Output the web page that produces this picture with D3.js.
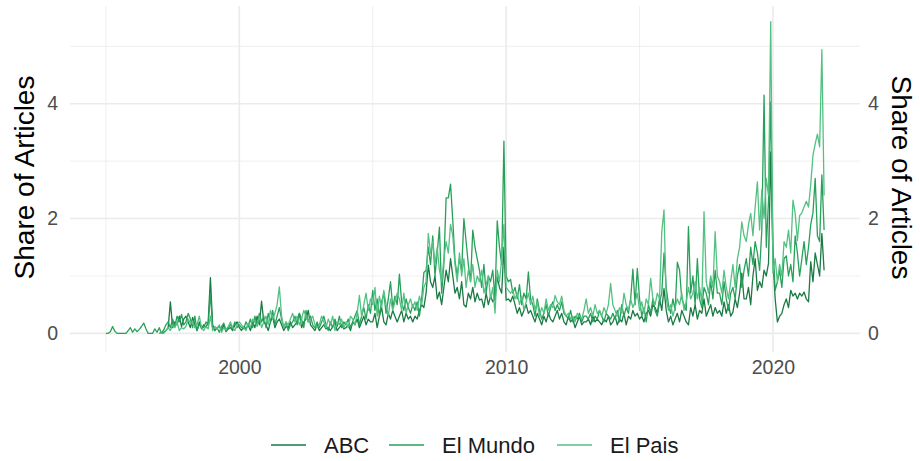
<!DOCTYPE html>
<html>
<head>
<meta charset="utf-8">
<script src="https://cdn.jsdelivr.net/npm/d3@7"></script>
<style>
  body { margin: 0; background: #fff; }
  text { font-family: "Liberation Sans", Arial, sans-serif; }
</style>
</head>
<body>
<div id="chart-area"></div>
<script>
// monthly share of articles, one row per year
var abcStart = 1997;
var abc = [
  0,0,0.02,0.05,0.1,0.55,0.1,0.2,0.15,0.3,0.12,0.25,
  0.3,0.2,0.1,0.28,0.15,0.05,0.2,0.08,0.15,0.1,0.2,0.97,
  0.15,0.05,0.1,0.12,0.05,0.15,0.03,0.08,0.1,0.05,0.15,0.2,
  0.1,0.05,0.12,0.08,0.15,0.05,0.2,0.1,0.3,0.15,0.56,0.2,
  0.15,0.05,0.2,0.3,0.1,0.2,0.25,0.15,0.05,0.12,0.1,0.2,
  0.1,0.15,0.2,0.35,0.1,0.2,0.25,0.4,0.15,0.1,0.05,0.15,
  0.05,0.1,0.15,0.08,0.1,0.05,0.12,0.2,0.05,0.1,0.15,0.08,
  0.1,0.15,0.05,0.2,0.15,0.25,0.1,0.2,0.3,0.15,0.25,0.2,
  0.2,0.35,0.1,0.3,0.45,0.2,0.15,0.35,0.25,0.4,0.3,0.2,
  0.3,0.4,0.2,0.35,0.25,0.3,0.2,0.3,0.25,0.4,0.5,0.45,
  0.7,1.19,0.9,0.8,1.0,0.6,0.72,0.5,0.8,1.1,0.9,1.3,
  1.0,0.7,0.8,0.6,0.9,0.5,0.46,0.7,0.6,0.8,0.55,0.7,
  0.58,0.6,0.45,0.7,0.5,0.65,0.55,0.6,0.98,0.8,0.7,1.5,
  0.58,0.6,0.55,0.65,0.5,0.35,0.45,0.3,0.4,0.5,0.35,0.4,
  0.3,0.2,0.35,0.25,0.15,0.3,0.2,0.35,0.25,0.2,0.3,0.4,
  0.25,0.35,0.2,0.15,0.3,0.2,0.25,0.1,0.2,0.3,0.15,0.2,
  0.2,0.25,0.15,0.3,0.2,0.25,0.2,0.15,0.25,0.2,0.3,0.15,
  0.2,0.3,0.15,0.25,0.2,0.35,0.15,0.3,0.25,0.4,0.3,0.35,
  0.25,0.3,0.2,0.35,0.4,0.3,0.5,0.45,0.35,0.6,0.4,0.78,
  0.4,0.2,0.3,0.15,0.25,0.35,0.2,0.4,0.3,0.2,0.15,0.45,
  0.3,0.5,0.25,0.4,0.35,0.6,0.3,0.4,0.5,0.3,0.45,0.35,
  0.4,0.3,0.55,0.35,0.5,0.3,0.37,0.6,0.45,0.7,1.05,0.6,
  0.6,0.8,0.5,1.0,1.3,0.75,0.9,0.8,1.1,1.0,1.22,3.16,
  1.3,0.6,0.2,0.3,0.35,0.5,0.6,0.45,0.75,0.65,0.7,0.6,
  0.7,0.65,0.72,0.6,0.55,1.25,0.9,1.4,1.2,1.0,1.74,1.1
];

var elMundoStart = 1995;
var elMundo = [
  0,0,0.03,0.12,0.04,0,0,0,0,0,0.05,0.1,
  0.02,0.08,0.03,0.07,0.12,0.18,0.08,0,0,0,0.08,0.02,
  0.1,0,0.06,0.15,0.2,0.1,0.25,0.12,0.3,0.2,0.33,0.15,
  0.2,0.35,0.25,0.1,0.3,0.05,0.15,0.12,0.1,0.2,0.15,0.7,
  0.1,0.05,0.1,0.02,0.12,0.18,0.05,0.1,0.15,0.08,0.2,0.1,
  0.15,0.1,0.08,0.2,0.12,0.25,0.1,0.3,0.15,0.35,0.2,0.3,
  0.1,0.35,0.2,0.4,0.15,0.3,0.45,0.25,0.1,0.2,0.05,0.15,
  0.2,0.3,0.15,0.35,0.25,0.1,0.4,0.2,0.3,0.15,0.1,0.2,
  0.1,0.2,0.3,0.15,0.05,0.2,0.1,0.25,0.12,0.3,0.1,0.2,
  0.15,0.25,0.1,0.2,0.3,0.4,0.15,0.3,0.45,0.25,0.5,0.35,
  0.75,0.4,0.6,0.3,0.55,0.7,0.35,0.6,0.9,0.45,0.65,0.5,
  1.03,0.55,0.4,0.6,0.45,0.35,0.5,0.4,0.55,0.3,0.6,1.06,
  1.1,1.5,1.2,1.7,1.0,1.4,1.85,0.7,1.2,2.36,2.36,2.6,
  1.97,1.27,1.0,1.3,1.1,2.0,1.6,1.2,0.9,1.8,1.5,1.3,
  1.1,0.8,1.2,0.7,1.0,0.9,1.1,0.6,1.96,1.5,1.2,3.35,
  1.0,0.9,0.94,0.7,0.8,0.6,0.85,0.5,0.7,0.6,1.07,0.6,
  0.5,0.3,0.6,0.4,0.25,0.35,0.5,0.3,0.45,0.55,0.4,0.5,
  0.4,0.55,0.35,0.3,0.25,0.4,0.2,0.3,0.25,0.35,0.2,0.3,
  0.3,0.25,0.35,0.2,0.3,0.25,0.4,0.3,0.2,0.35,0.3,0.25,
  0.35,0.25,0.4,0.2,0.5,0.3,0.45,0.35,0.6,1.12,0.5,1.13,
  0.6,0.3,0.45,0.2,0.5,0.35,0.6,0.4,0.3,0.55,0.7,1.4,
  0.8,0.5,0.35,0.6,0.4,1.24,1.1,0.6,0.5,0.4,1.86,0.7,
  1.0,0.5,1.3,0.6,0.45,0.8,0.7,0.5,0.9,0.6,1.1,0.7,
  0.7,0.5,0.9,0.6,0.4,0.7,0.8,0.6,1.0,1.2,0.8,1.1,
  1.3,1.0,1.5,1.2,1.6,1.4,1.1,1.8,4.15,1.5,2.3,4.03,
  1.5,0.75,0.9,1.1,0.8,1.3,1.35,1.0,1.2,0.9,1.7,1.4,
  1.0,1.3,1.6,1.2,1.5,1.9,2.1,2.7,1.7,1.6,2.76,1.8
];

var elPaisStart = 1997;
var elPais = [
  0,0,0,0.05,0.1,0.05,0.15,0.1,0.2,0.05,0.1,0.08,
  0.12,0.25,0.18,0.2,0.1,0.15,0.3,0.1,0.05,0.12,0.08,0.3,
  0.05,0.12,0.08,0.15,0.02,0.1,0.06,0.12,0.2,0.1,0.05,0.15,
  0.2,0.15,0.1,0.05,0.18,0.1,0.25,0.2,0.12,0.3,0.1,0.2,
  0.3,0.15,0.4,0.25,0.35,0.5,0.81,0.3,0.1,0.2,0.15,0.25,
  0.35,0.2,0.3,0.15,0.25,0.4,0.3,0.2,0.25,0.3,0.15,0.1,
  0.15,0.3,0.2,0.1,0.25,0.15,0.3,0.05,0.2,0.15,0.25,0.1,
  0.2,0.1,0.3,0.25,0.15,0.35,0.66,0.3,0.5,0.7,0.4,0.6,
  0.5,0.8,0.3,0.65,0.45,0.75,0.5,0.3,0.6,0.4,0.55,0.7,
  0.6,0.4,0.7,0.35,0.5,0.6,0.45,0.55,0.4,0.65,0.5,0.8,
  0.9,1.74,1.4,1.6,1.2,1.5,1.1,0.9,1.3,1.6,1.4,1.9,
  1.7,1.2,0.9,1.4,1.0,1.3,0.8,1.1,0.9,1.2,0.8,1.0,
  0.9,1.1,0.7,0.85,1.0,0.6,0.8,0.35,1.1,0.9,1.3,1.9,
  0.8,0.75,0.7,0.75,0.6,0.7,0.5,0.65,0.4,0.55,0.7,0.5,
  0.65,0.4,0.55,0.3,0.45,0.35,0.6,0.4,0.5,0.45,0.66,0.55,
  0.5,0.65,0.4,0.3,0.35,0.25,0.3,0.2,0.35,0.3,0.25,0.4,
  0.6,0.35,0.45,0.3,0.5,0.35,0.4,0.3,0.45,0.35,0.5,0.87,
  0.5,0.4,0.3,0.45,0.35,0.7,0.5,0.4,0.6,0.45,0.55,0.7,
  0.4,0.55,0.35,0.6,0.5,0.96,0.6,0.5,0.7,0.6,1.77,2.15,
  0.6,0.4,0.5,0.3,0.45,0.6,0.5,0.7,0.4,0.55,0.8,0.6,
  0.7,0.9,0.6,0.8,0.55,2.12,0.9,0.7,1.0,0.8,1.77,1.0,
  0.9,0.7,1.1,0.8,0.6,0.9,1.2,0.8,1.3,1.5,1.94,1.7,
  1.6,1.9,2.09,1.7,2.2,2.64,1.8,2.5,2.0,2.7,2.4,5.43,
  1.05,1.3,0.9,1.2,1.0,1.6,1.5,1.8,1.4,2.32,2.09,1.62,
  2.05,2.1,2.2,2.3,2.2,2.6,3.1,3.3,3.47,3.25,4.94,2.4
];

var seriesNames = ["ABC", "El Mundo", "El Pais"];
var seriesColors = ["#1a7a43", "#27a05a", "#52c182"];
var xTicks = [2000, 2010, 2020];
var xMinor = [1995, 2005, 2015];
var yTicks = [0, 2, 4];
var yMinor = [1, 3, 5];

function toPoints(values, start) {
  return values.map(function(v, i) {
    return { t: start + i / 12, v: v };
  });
}
var series = [
  toPoints(abc, abcStart),
  toPoints(elMundo, elMundoStart),
  toPoints(elPais, elPaisStart)
];

var W = 920, H = 461;
var margin = { left: 70, right: 60, top: 6, bottom: 112 };

var svg = d3.select("#chart-area")
  .append("svg")
  .attr("width", W)
  .attr("height", H);

var all = d3.merge(series);
var tExt = d3.extent(all, d => d.t);
var vMax = d3.max(all, d => d.v);
var tPad = (tExt[1] - tExt[0]) * 0.05;
var vPad = vMax * 0.05;

var x = d3.scaleLinear()
  .domain([tExt[0] - tPad, tExt[1] + tPad])
  .range([margin.left, W - margin.right]);
var y = d3.scaleLinear()
  .domain([0 - vPad, vMax + vPad])
  .range([H - margin.bottom, margin.top]);

var grid = svg.append("g");
grid.selectAll(".ymin").data(yMinor).enter().append("line")
  .attr("x1", x.range()[0]).attr("x2", x.range()[1])
  .attr("y1", d => y(d)).attr("y2", d => y(d))
  .attr("stroke", "#ebebeb").attr("stroke-width", 0.8);
grid.selectAll(".xmin").data(xMinor).enter().append("line")
  .attr("y1", y.range()[0] + 3).attr("y2", y.range()[1])
  .attr("x1", d => x(d)).attr("x2", d => x(d))
  .attr("stroke", "#ebebeb").attr("stroke-width", 0.8);
grid.selectAll(".ymaj").data(yTicks).enter().append("line")
  .attr("x1", x.range()[0]).attr("x2", x.range()[1])
  .attr("y1", d => y(d)).attr("y2", d => y(d))
  .attr("stroke", "#ebebeb").attr("stroke-width", 1.6);
grid.selectAll(".xmaj").data(xTicks).enter().append("line")
  .attr("y1", y.range()[0] + 3).attr("y2", y.range()[1])
  .attr("x1", d => x(d)).attr("x2", d => x(d))
  .attr("stroke", "#ebebeb").attr("stroke-width", 1.6);

var line = d3.line()
  .x(d => x(d.t))
  .y(d => y(d.v));

svg.selectAll(".series").data(series).enter().append("path")
  .attr("d", line)
  .attr("fill", "none")
  .attr("stroke", (d, i) => seriesColors[i])
  .attr("stroke-width", 1.3)
  .attr("stroke-linejoin", "round");

// axes
function styleAxis(g) {
  g.select(".domain").remove();
  g.selectAll("text")
    .attr("fill", "#4d4d4d")
    .style("font-size", "19.5px")
    .style("font-family", "Liberation Sans, Arial, sans-serif");
}
svg.append("g")
  .attr("transform", "translate(0," + (H - margin.bottom) + ")")
  .call(d3.axisBottom(x).tickValues(xTicks).tickFormat(d3.format("d")).tickSize(0).tickPadding(11))
  .call(styleAxis);
svg.append("g")
  .attr("transform", "translate(" + margin.left + ",0)")
  .call(d3.axisLeft(y).tickValues(yTicks).tickFormat(d3.format("d")).tickSize(0).tickPadding(12))
  .call(styleAxis);
svg.append("g")
  .attr("transform", "translate(" + (W - margin.right) + ",0)")
  .call(d3.axisRight(y).tickValues(yTicks).tickFormat(d3.format("d")).tickSize(0).tickPadding(8))
  .call(styleAxis);

var midY = (y.range()[0] + y.range()[1]) / 2;
svg.append("text")
  .attr("transform", "translate(34," + midY + ") rotate(-90)")
  .attr("text-anchor", "middle")
  .style("font-size", "28px")
  .text("Share of Articles");
svg.append("text")
  .attr("transform", "translate(892," + midY + ") rotate(90)")
  .attr("text-anchor", "middle")
  .style("font-size", "28px")
  .text("Share of Articles");

// legend
var legendX = [271, 389, 557];
var legend = svg.append("g").attr("transform", "translate(0,445)");
var item = legend.selectAll("g").data(seriesNames).enter().append("g")
  .attr("transform", (d, i) => "translate(" + legendX[i] + ",0)");
item.append("line")
  .attr("x1", 0).attr("x2", 35).attr("y1", 0).attr("y2", 0)
  .attr("stroke", (d, i) => seriesColors[i])
  .attr("stroke-width", 1.6);
item.append("text")
  .attr("x", 53).attr("y", 8)
  .style("font-size", "22px")
  .attr("fill", "#1a1a1a")
  .text(d => d);
</script>
</body>
</html>
